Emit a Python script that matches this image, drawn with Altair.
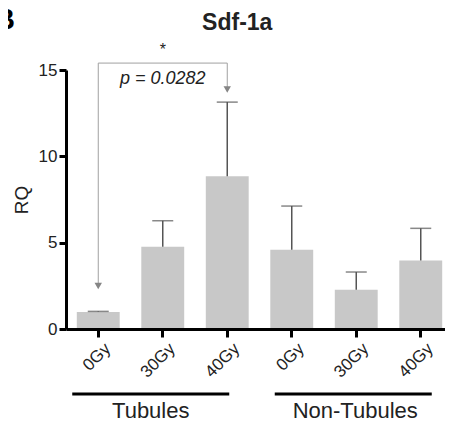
import altair as alt
import pandas as pd

# ---- data ----
groups = ["Tubules", "Tubules", "Tubules", "Non-Tubules", "Non-Tubules", "Non-Tubules"]
doses = ["0Gy", "30Gy", "40Gy", "0Gy", "30Gy", "40Gy"]
means = [0.98, 4.77, 8.84, 4.59, 2.28, 3.96]
errors = [0.04, 1.50, 4.30, 2.53, 1.02, 1.87]
y_ticks = [0, 5, 10, 15]

title_text = "Sdf-1a"
panel_label = "B"
sig_star = "*"
p_text = "p = 0.0282"
bracket_y = 15.4
arrow_head_y = [2.49, 13.87]
star_y = 15.87
p_y = 14.19
title_y = 17.32
group_names = ["Tubules", "Non-Tubules"]
group_line_y = -3.76
group_label_y = -5.15

FONT = "Liberation Sans"
keys = [f"{g}|{d}" for g, d in zip(groups, doses)]
df = pd.DataFrame({
    "key": keys, "group": groups, "dose": doses, "mean": means,
    "upper": [m + e for m, e in zip(means, errors)],
})

x_scale = alt.Scale(domain=keys, paddingInner=0.335, paddingOuter=0.1675)
y_scale = alt.Scale(domain=[0, 15], nice=False, zero=True)

common_axis = dict(
    grid=False, domainColor="black", domainWidth=3, tickColor="black",
    tickWidth=3, labelFont=FONT, labelColor="#222", titleFont=FONT,
    titleColor="#222", domainOpacity=1, tickOpacity=1, zindex=1,
)
x_axis = alt.Axis(
    title=None, labelExpr="split(datum.label, '|')[1]", labelAngle=315,
    labelAlign="right", labelBaseline="top", labelFontSize=17,
    labelPadding=3, labelOffset=4, tickSize=8, **common_axis,
)
y_axis = alt.Axis(
    title="RQ", values=y_ticks, labelFontSize=17, labelPadding=2, tickSize=7,
    titleFontSize=19, titleFontWeight="normal", titleAngle=270, titleX=-39,
    titleY=129.5, titleBaseline="alphabetic", titleAlign="center", **common_axis,
)

X = alt.X("key:N", scale=x_scale, sort=keys, axis=x_axis)


def Y(field):
    return alt.Y(field, scale=y_scale, axis=y_axis)


bars = alt.Chart(df).mark_bar(color="#c8c8c8").encode(x=X, y=Y("mean:Q"))
err = alt.Chart(df).mark_rule(color="#555", strokeWidth=1.5).encode(
    x=X, y=Y("mean:Q"), y2="upper:Q"
)
caps = alt.Chart(df).mark_tick(color="#555", thickness=1.5, size=21).encode(
    x=X, y=Y("upper:Q")
)

# significance bracket
br_df = pd.DataFrame({"key": [keys[0]], "key2": [keys[2]], "y": [bracket_y]})
br_h = alt.Chart(br_df).mark_rule(color="#a0a0a0", strokeWidth=1).encode(
    x=X, x2="key2:N", y=Y("y:Q")
)
arr_df = pd.DataFrame({"key": [keys[0], keys[2]], "top": [bracket_y] * 2, "head": arrow_head_y})
br_v = alt.Chart(arr_df).mark_rule(color="#a0a0a0", strokeWidth=1).encode(
    x=X, y=Y("top:Q"), y2="head:Q"
)
heads = alt.Chart(arr_df).mark_point(
    shape="triangle-down", filled=True, color="#858585", size=55, opacity=1
).encode(x=X, y=Y("head:Q"))

star = alt.Chart(pd.DataFrame({"key": [keys[1]], "y": [star_y], "t": [sig_star]})).mark_text(
    font=FONT, fontSize=16, color="#222", baseline="alphabetic"
).encode(x=X, y=Y("y:Q"), text="t:N")
ptxt = alt.Chart(pd.DataFrame({"key": [keys[1]], "y": [p_y], "t": [p_text]})).mark_text(
    font=FONT, fontSize=18, fontStyle="italic", color="#222", baseline="alphabetic"
).encode(x=X, y=Y("y:Q"), text="t:N")
title = alt.Chart(pd.DataFrame({"key": [keys[2]], "y": [title_y], "t": [title_text]})).mark_text(
    font=FONT, fontSize=23, fontWeight="bold", color="#222", baseline="alphabetic", dx=10
).encode(x=X, y=Y("y:Q"), text="t:N")

# group underlines and labels
line_offsets = {"Tubules": (-26, 2), "Non-Tubules": (-17, 11)}
label_dx = {"Tubules": -12, "Non-Tubules": -1}
group_layers = []
for gi, g in enumerate(group_names):
    ks = keys[gi * 3:(gi + 1) * 3]
    ldf = pd.DataFrame({"key": [ks[0]], "key2": [ks[2]], "y": [group_line_y]})
    o1, o2 = line_offsets[g]
    group_layers.append(
        alt.Chart(ldf).mark_rule(color="black", strokeWidth=3, xOffset=o1, x2Offset=o2).encode(
            x=X, x2="key2:N", y=Y("y:Q")
        )
    )
    tdf = pd.DataFrame({"key": [ks[1]], "y": [group_label_y], "t": [g]})
    group_layers.append(
        alt.Chart(tdf).mark_text(font=FONT, fontSize=22, color="#222", baseline="alphabetic",
                                 dx=label_dx[g]).encode(
            x=X, y=Y("y:Q"), text="t:N"
        )
    )

panel = alt.Chart(pd.DataFrame({"t": [panel_label]})).mark_text(
    font=FONT, fontSize=29, fontWeight="bold", color="black", align="right",
    baseline="alphabetic"
).encode(x=alt.value(-51), y=alt.value(-41), text="t:N")

chart = alt.layer(
    bars, err, caps, br_h, br_v, heads, star, ptxt, title, *group_layers, panel
).properties(
    width=387, height=259, background="white",
    autosize=alt.AutoSizeParams(type="none"),
    padding={"left": 58, "top": 62, "right": -8, "bottom": 93},
).configure_view(stroke=None).configure_axis(**common_axis)

chart.save("out.html", embed_options={"renderer": "svg", "actions": False})
